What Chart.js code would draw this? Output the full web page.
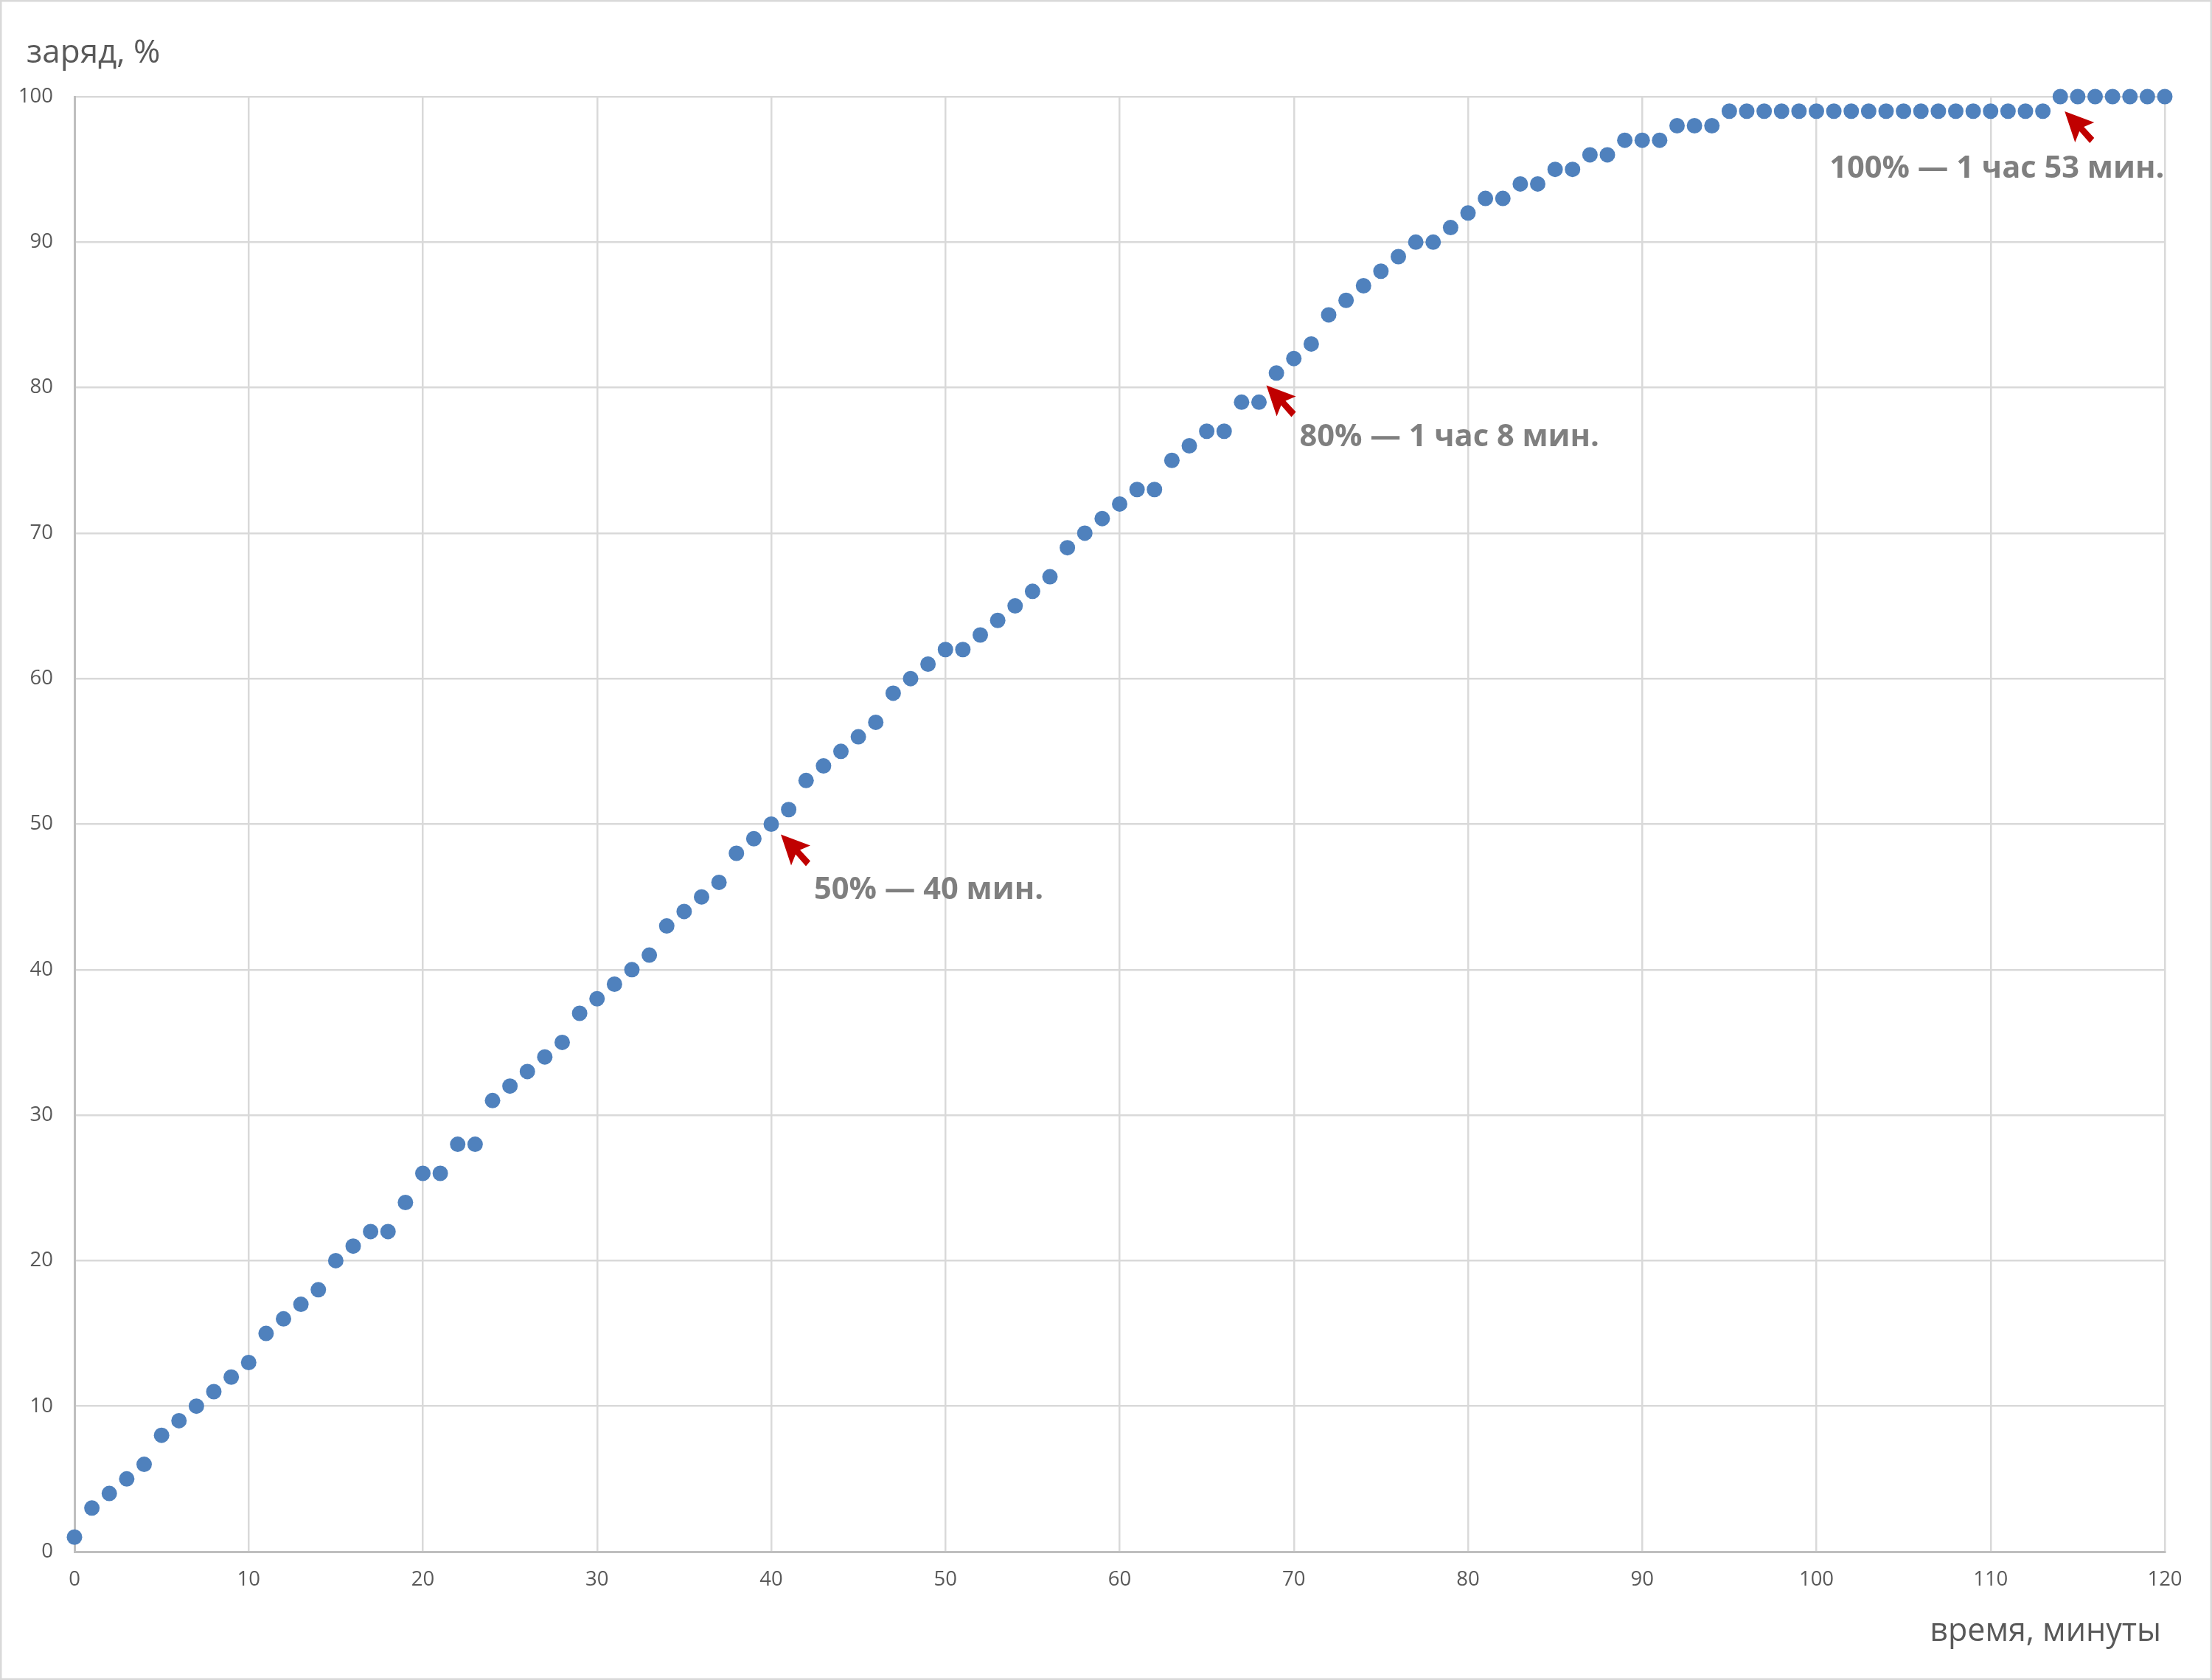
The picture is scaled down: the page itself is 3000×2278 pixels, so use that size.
<!DOCTYPE html>
<html>
<head>
<meta charset="utf-8">
<title>заряд</title>
<script src="https://cdn.jsdelivr.net/npm/chart.js@4"></script>
<style>
  body { margin: 0; background: #fff; }
  canvas { display: block; }
</style>
</head>
<body>
<canvas id="chargeChart" width="3000" height="2278" style="width:3000px;height:2278px"></canvas>
<script>
const minutes = [
  0, 1, 2, 3, 4, 5, 6, 7, 8, 9, 10, 11, 12, 13, 14, 15, 16, 17, 18, 19,
  20, 21, 22, 23, 24, 25, 26, 27, 28, 29, 30, 31, 32, 33, 34, 35, 36, 37, 38, 39,
  40, 41, 42, 43, 44, 45, 46, 47, 48, 49, 50, 51, 52, 53, 54, 55, 56, 57, 58, 59,
  60, 61, 62, 63, 64, 65, 66, 67, 68, 69, 70, 71, 72, 73, 74, 75, 76, 77, 78, 79,
  80, 81, 82, 83, 84, 85, 86, 87, 88, 89, 90, 91, 92, 93, 94, 95, 96, 97, 98, 99,
  100, 101, 102, 103, 104, 105, 106, 107, 108, 109, 110, 111, 112, 113, 114, 115, 116, 117, 118, 119,
  120
];
const charge = [
  1, 3, 4, 5, 6, 8, 9, 10, 11, 12, 13, 15, 16, 17, 18, 20, 21, 22, 22, 24,
  26, 26, 28, 28, 31, 32, 33, 34, 35, 37, 38, 39, 40, 41, 43, 44, 45, 46, 48, 49,
  50, 51, 53, 54, 55, 56, 57, 59, 60, 61, 62, 62, 63, 64, 65, 66, 67, 69, 70, 71,
  72, 73, 73, 75, 76, 77, 77, 79, 79, 81, 82, 83, 85, 86, 87, 88, 89, 90, 90, 91,
  92, 93, 93, 94, 94, 95, 95, 96, 96, 97, 97, 97, 98, 98, 98, 99, 99, 99, 99, 99,
  99, 99, 99, 99, 99, 99, 99, 99, 99, 99, 99, 99, 99, 99, 100, 100, 100, 100, 100, 100,
  100
];
const yTitle = 'заряд, %';
const xTitle = 'время, минуты';
const noteTexts = ['50% — 40 мин.', '80% — 1 час 8 мин.', '100% — 1 час 53 мин.'];
const noteMinutes = [40, 68, 114];
const noteCharge = [50, 80, 100];

const fontName = '"Open Sans", "Noto Sans", sans-serif';

// tip offset from the marked point, and where the text starts from the tip
const arrowOffset = [[13, 14], [10, -3], [6, 20]];
const textOffset = [[45, 87], [45, 82], [-319, 90]];
const arrowShape = [[0, 0], [40, 15], [26, 21], [40, 36], [34, 43], [20, 27], [14, 42]];

const notesPlugin = {
  id: 'notes',
  beforeDraw(chart) {
    const ctx = chart.ctx;
    ctx.save();
    ctx.strokeStyle = '#d9d9d9';
    ctx.lineWidth = 3;
    ctx.strokeRect(1, 1, 2998, 2276);
    ctx.restore();
  },
  afterDraw(chart) {
    const ctx = chart.ctx;
    const sx = chart.scales.x;
    const sy = chart.scales.y;
    ctx.save();
    ctx.fillStyle = '#595959';
    ctx.textBaseline = 'alphabetic';
    ctx.font = '44px ' + fontName;
    ctx.textAlign = 'left';
    ctx.fillText(yTitle, 36, 85);
    ctx.font = '43px ' + fontName;
    ctx.textAlign = 'right';
    ctx.fillText(xTitle, 2931, 2225);

    noteTexts.forEach(function (text, i) {
      const tipX = sx.getPixelForValue(noteMinutes[i]) + arrowOffset[i][0];
      const tipY = sy.getPixelForValue(noteCharge[i]) + arrowOffset[i][1];
      ctx.fillStyle = '#c00000';
      ctx.beginPath();
      arrowShape.forEach(function (p, k) {
        if (k === 0) ctx.moveTo(tipX + p[0], tipY + p[1]);
        else ctx.lineTo(tipX + p[0], tipY + p[1]);
      });
      ctx.closePath();
      ctx.fill();

      ctx.fillStyle = '#7f7f7f';
      ctx.font = 'bold 41.6px ' + fontName;
      ctx.textAlign = 'left';
      ctx.fillText(text, tipX + textOffset[i][0], tipY + textOffset[i][1]);
    });
    ctx.restore();
  }
};

new Chart(document.getElementById('chargeChart'), {
  type: 'scatter',
  data: {
    datasets: [{
      data: minutes.map(function (m, i) { return { x: m, y: charge[i] }; }),
      backgroundColor: '#4f81bd',
      borderWidth: 0,
      pointRadius: 10.5,
      clip: false
    }]
  },
  options: {
    responsive: false,
    animation: false,
    devicePixelRatio: 1,
    layout: { padding: { top: 131, right: 64, bottom: 0, left: 0 } },
    plugins: { legend: { display: false }, tooltip: { enabled: false } },
    scales: {
      x: {
        type: 'linear',
        min: 0,
        max: 120,
        afterFit: function (scale) { scale.height = 174; },
        grid: { color: '#d9d9d9', lineWidth: 2.5, drawTicks: false },
        border: { color: '#bfbfbf', width: 3 },
        ticks: {
          stepSize: 10,
          autoSkip: false,
          maxRotation: 0,
          padding: 22,
          color: '#595959',
          font: { family: fontName, size: 27.5 }
        }
      },
      y: {
        min: 0,
        max: 100,
        afterFit: function (scale) { scale.width = 101; },
        grid: { color: '#d9d9d9', lineWidth: 2.5, drawTicks: false },
        border: { color: '#bfbfbf', width: 3 },
        ticks: {
          stepSize: 10,
          padding: 29,
          color: '#595959',
          font: { family: fontName, size: 27.5 }
        }
      }
    }
  },
  plugins: [notesPlugin]
});
</script>
</body>
</html>
